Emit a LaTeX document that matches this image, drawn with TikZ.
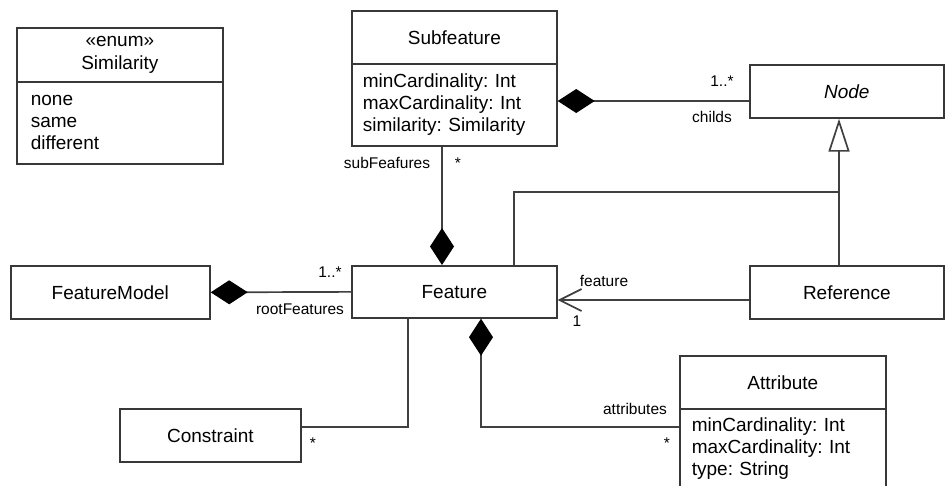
\documentclass[tikz,border=0pt]{standalone}
\usepackage{fontspec}
\setmainfont{Liberation Sans}
\usetikzlibrary{arrows.meta,calc}
\frenchspacing
\begin{document}
\begin{tikzpicture}[x=1pt,y=-1pt,
  box/.style={draw=black!78, line width=1.7pt, rectangle, inner sep=0pt, anchor=north west,
    font=\fontsize{19}{22}\selectfont\frenchspacing, align=center, text=black},
  comp/.style={draw=black!75, line width=1.7pt, {Diamond[length=37pt,width=24pt,color=black]}-},
  line/.style={draw=black!75, line width=1.7pt},
  gen/.style={draw=black!75, line width=1.7pt, -{Triangle[open,length=33pt,width=21pt,fill=white]}},
  assoc/.style={draw=black!75, line width=1.7pt, -{Straight Barb[length=22pt,width=22pt]}},
  lbl/.style={font=\fontsize{15.5}{18}\selectfont, anchor=base, inner sep=0pt, text=black}
]
\useasboundingbox (0,0) rectangle (945,485);
\clip (0,0) rectangle (945,485);
\fill[white] (0,0) rectangle (945,485);

% Similarity enum
\node[box, minimum width=206pt, minimum height=54pt] (simh) at (16,27) {«enum»\\[1pt]Similarity};
\node[box, minimum width=206pt, minimum height=82pt, align=left, text width=178pt, inner xsep=14pt] (sima) at (16,81) {none\\same\\different};

% Subfeature
\node[box, minimum width=205pt, minimum height=53pt] (sfh) at (351,10) {Subfeature};
\node[box, minimum width=205pt, minimum height=82pt, align=left, text width=183pt, inner xsep=11pt] (sfa) at (351,63) {minCardinality: Int\\maxCardinality: Int\\similarity: Similarity};

% Node
\node[box, minimum width=194pt, minimum height=53pt, font=\fontsize{19}{22}\selectfont\itshape] (node) at (749,64) {Node};

% Feature
\node[box, minimum width=205pt, minimum height=52pt] (feature) at (351,265) {Feature};

% FeatureModel
\node[box, minimum width=199pt, minimum height=53pt] (fm) at (10,265) {FeatureModel};

% Reference
\node[box, minimum width=194pt, minimum height=53pt] (ref) at (749,265) {Reference};

% Constraint
\node[box, minimum width=181pt, minimum height=53pt] (con) at (119,408) {Constraint};

% Attribute
\node[box, minimum width=206pt, minimum height=53pt] (ath) at (679,355) {Attribute};
\node[box, minimum width=206pt, minimum height=80pt, align=left, text width=182pt, inner xsep=12pt] (ata) at (679,408) {minCardinality: Int\\maxCardinality: Int\\type: String};

% connectors
\coordinate (gj) at (839,192);
\draw[comp] (sfa.east |- 0,101) -- (node.west |- 0,101);
\draw[comp] (feature.north -| 442,0) -- (sfa.south -| 442,0);
\draw[line] (feature.north -| 514,0) |- (gj);
\draw[gen] (ref.north -| gj) -- (node.south -| gj);
\draw[comp] (fm.east) -- (feature.west);
\draw[assoc] (ref.west |- 0,300) -- (feature.east |- 0,300);
\draw[comp] (feature.south -| 481,0) |- (ata.west |- 0,427);
\draw[line] (feature.south -| 408,0) |- (con.east |- 0,427);

% labels
\node[lbl] (l1) at (722,86.5) {1..*};
\node[lbl] (l2) at (712,122.5) {childs};
\node[lbl] (l3) at (387,168) {subFeafures};
\node[lbl] (l4) at (458,168) {*};
\node[lbl] (l5) at (330,277) {1..*};
\node[lbl] (l6) at (300,314) {rootFeatures};
\node[lbl] (l7) at (604,286) {feature};
\node[lbl] (l8) at (577,326.5) {1};
\node[lbl] (l9) at (635,414) {attributes};
\node[lbl] (l10) at (667,448) {*};
\node[lbl] (l11) at (313,448) {*};
\end{tikzpicture}
\end{document}
